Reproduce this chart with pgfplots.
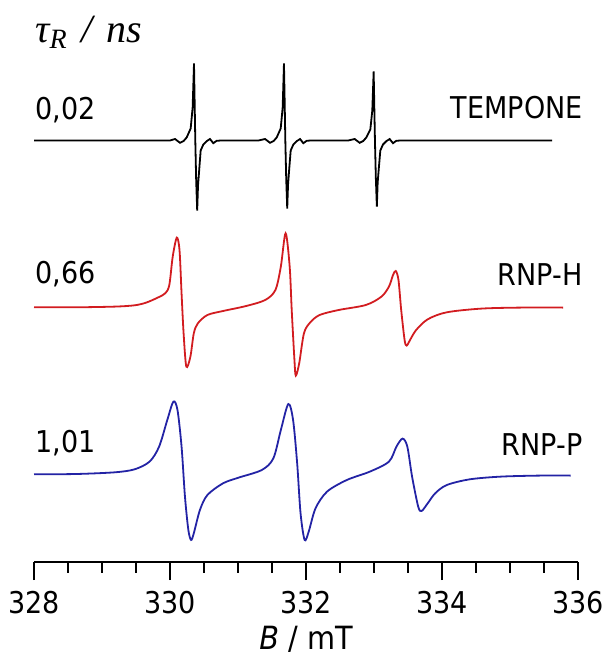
\documentclass[border=0pt]{standalone}
\usepackage{fontspec}
\setmainfont{DejaVu Sans}[FakeStretch=0.9]
\newfontfamily\timesfont{Liberation Serif}
\usepackage{pgfplots}
\pgfplotsset{compat=1.18}
\usepackage{pgfplotstable}

\definecolor{specred}{RGB}{210,28,32}
\definecolor{specblue}{RGB}{35,35,165}
\newcommand{\labfont}{\fontsize{15}{18}\selectfont}

% TEMPONE, tau_R = 0.02 ns (intensity relative to baseline)
\pgfplotstableread{
B I
328.000 0
330.000 0
330.074 1.5
330.147 -2.3
330.200 -0.5
330.245 3
330.304 12
330.333 33
330.353 77
330.362 40
330.372 0
330.385 -40
330.400 -70
330.412 -45
330.431 -28
330.451 -10
330.490 -4
330.539 -0.7
330.588 1.5
330.637 -2.7
330.686 -0.3
330.750 0
331.300 0
331.398 1.5
331.471 -2.3
331.524 -0.5
331.569 3
331.628 12
331.657 33
331.676 77
331.686 40
331.696 0
331.709 -38
331.724 -68
331.736 -44
331.755 -27
331.775 -10
331.814 -4
331.863 -0.7
331.912 1.5
331.961 -2.7
332.010 -0.3
332.070 0
332.620 0
332.716 1.5
332.789 -2.3
332.842 -0.5
332.887 3
332.946 11
332.975 30
332.995 69
333.004 36
333.014 0
333.027 -37
333.042 -66
333.054 -42
333.073 -26
333.093 -10
333.132 -4
333.181 -0.7
333.230 1.5
333.279 -2.7
333.328 -0.3
333.390 0
335.620 0
}\tempone

% RNP-H, tau_R = 0.66 ns
\pgfplotstableread{
B I
328.00 0
328.62 0
329.19 0.7
329.48 2
329.65 4.7
329.82 9.7
329.93 14
329.99 22.3
330.04 50.7
330.10 69.7
330.14 57
330.17 14
330.20 -26
330.24 -59.3
330.30 -49.3
330.35 -26
330.41 -16
330.55 -7.7
330.78 -3.7
331.12 1.3
331.40 7.3
331.55 17.3
331.63 40.7
331.70 74
331.76 40.7
331.79 -2.7
331.83 -52.7
331.85 -68.3
331.90 -56
331.97 -26
332.06 -15.3
332.20 -7.7
332.48 -2.7
332.88 2.3
333.11 10.7
333.22 20.7
333.28 32.3
333.32 36.3
333.36 27.3
333.40 -2.7
333.45 -32.7
333.48 -38.3
333.53 -32.7
333.62 -22.7
333.79 -12
334.07 -5
334.58 -1.3
335.15 -0.3
335.78 -0.3
}\rnph

% RNP-P, tau_R = 1.01 ns
\pgfplotstableread{
B I
328.00 0
328.62 0.3
329.19 2
329.48 5
329.70 12.7
329.84 27.7
329.96 54.3
330.05 72.7
330.11 64.3
330.17 27.7
330.22 -22.3
330.27 -55.7
330.31 -65.7
330.35 -59
330.44 -35.7
330.55 -20.7
330.78 -9
331.01 -3.3
331.35 4.3
331.52 16
331.63 44.3
331.74 70.3
331.81 54.3
331.87 11
331.92 -39
331.98 -65.7
332.04 -57.3
332.14 -34
332.31 -17.3
332.60 -5.7
332.94 2.7
333.22 12.7
333.33 27.7
333.42 35.7
333.49 27.7
333.56 -2.3
333.65 -32.3
333.70 -36.7
333.79 -29
333.90 -19
334.07 -10.7
334.41 -5
334.87 -2.3
335.43 -1.3
335.89 -1.3
}\rnpp

\begin{document}
\begin{tikzpicture}
\begin{axis}[
    scale only axis,
    width=272pt, height=281pt,
    xmin=328, xmax=336, ymin=0, ymax=562,
    axis x line=bottom,
    axis y line=none,
    x axis line style={-, line width=1pt},
    xtick={328,330,...,336},
    minor x tick num=3,
    tick align=outside,
    major tick length=9pt,
    minor tick length=5.3pt,
    every tick/.style={black, line width=1pt},
    xticklabel style={font=\labfont, yshift=-2pt, /pgf/number format/assume math mode=true},
    /pgf/number format/1000 sep={},
    xlabel={\textit{B} / mT},
    xlabel style={font=\fontsize{16}{19}\selectfont, yshift=0.5pt},
    clip=false,
]
\coordinate (tl) at (axis cs:327.5,562);
\coordinate (br) at (axis cs:336.397,-93);

\addplot[black, line width=0.9pt] table[x=B, y expr=\thisrow{I}+421.5] {\tempone};
\addplot[specred, line width=0.9pt, smooth, tension=0.5] table[x=B, y expr=\thisrow{I}+254.7] {\rnph};
\addplot[specblue, line width=0.9pt, smooth, tension=0.5] table[x=B, y expr=\thisrow{I}+87.7] {\rnpp};

\node[anchor=base west, inner sep=0pt, font=\fontsize{20}{24}\selectfont\timesfont\itshape]
    at (axis cs:328.015,520) {τ\textsubscript{R}\hspace{0.35em}/\hspace{0.35em}ns};
\node[anchor=base west, inner sep=0pt, font=\labfont] at (axis cs:328.015,443) {0,02};
\node[anchor=base east, inner sep=0pt, font=\labfont] at (axis cs:336.074,444) {TEMPONE};
\node[anchor=base west, inner sep=0pt, font=\labfont] at (axis cs:328.015,279) {0,66};
\node[anchor=base east, inner sep=0pt, font=\labfont] at (axis cs:336.074,277) {RNP-H};
\node[anchor=base west, inner sep=0pt, font=\labfont] at (axis cs:328.015,110) {1,01};
\node[anchor=base east, inner sep=0pt, font=\labfont] at (axis cs:336.074,107) {RNP-P};
\end{axis}
\pgfresetboundingbox
\path[use as bounding box] (tl) rectangle (br);
\end{tikzpicture}
\end{document}
